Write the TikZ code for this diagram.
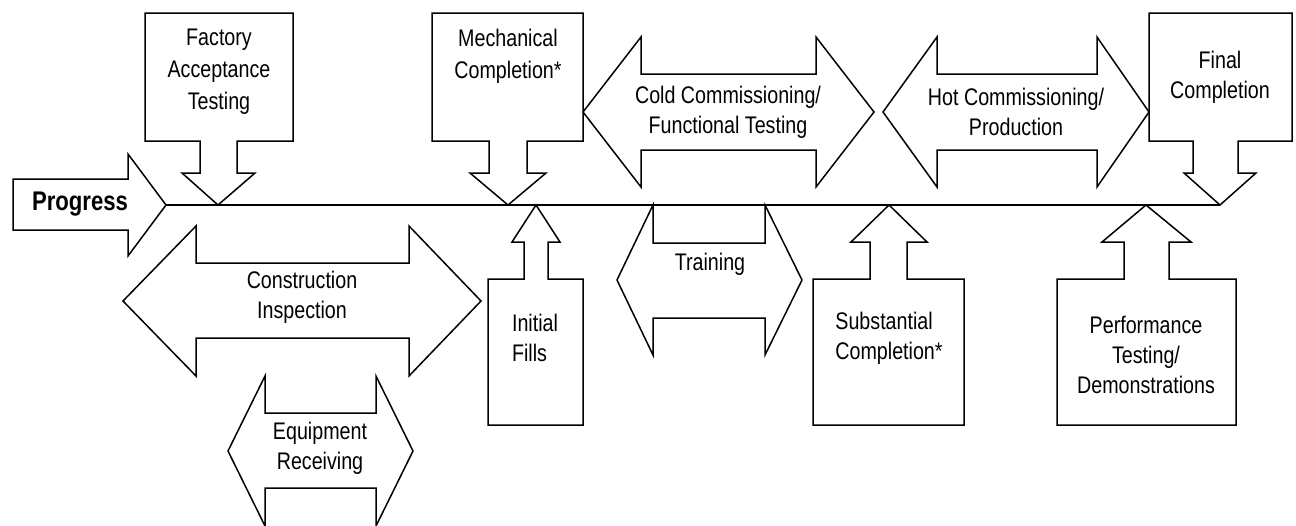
\documentclass[tikz,border=0pt]{standalone}
\usepackage{fontspec}
\setmainfont{Liberation Sans}[FakeStretch=0.82]
\begin{document}
\begin{tikzpicture}[x=1pt, y=-1pt,
	outline/.style={draw=black, fill=white, line width=1.5pt, line join=miter},
	txt/.style={inner sep=0pt, align=center, font=\fontsize{24}{30}\selectfont},
	toptxt/.style={txt, font=\fontsize{24}{32}\selectfont}]
	\useasboundingbox (0,0) rectangle (1296,525);

	% Progress arrow
	\draw[outline] (13,179) -- (128,179) -- (128,154) -- (166,205) -- (128,256) -- (128,230) -- (13,230) -- cycle;
	\coordinate (start) at (166,205);
	\node[txt, font=\bfseries\fontsize{27}{30}\selectfont] (progress) at (80,204) {Progress};

	% Boxes pointing down to the line
	\foreach \l/\r/\sl/\sr/\hl/\hr/\t/\n in {145/293/200/237/182/255/218/fat, 432/583/489/527/470/546/508/mech, 1149/1292/1193/1238/1184/1256/1220/final} {
		\draw[outline] (\l,13) -- (\r,13) -- (\r,141) -- (\sr,141) -- (\sr,173) -- (\hr,173) -- (\t,205)
			-- (\hl,173) -- (\sl,173) -- (\sl,141) -- (\l,141) -- cycle;
		\coordinate (\n-tip) at (\t,205);
	}

	% Boxes pointing up to the line
	\foreach \l/\r/\sl/\sr/\hl/\hr/\t/\n in {488/583/524/548/512/560/536/fills, 813/964/870/907/851/927/889/subst, 1057/1236/1124/1169/1102/1191/1146/perf} {
		\draw[outline] (\t,205) -- (\hr,242) -- (\sr,242) -- (\sr,279) -- (\r,279) -- (\r,425) -- (\l,425)
			-- (\l,279) -- (\sl,279) -- (\sl,242) -- (\hl,242) -- cycle;
		\coordinate (\n-tip) at (\t,205);
	}

	% Double arrows
	\foreach \a/\b/\c/\d/\ym/\ht/\st/\sb/\hb in {583/641/816/874/112/37/74/150/187, 883/937/1097/1149/112/37/74/150/187, 123/196/409/481/301/226/263/338/376, 617/653/765/802/280/205/243/318/355, 228/265/376/413/451/376/413/488/526} {
		\draw[outline] (\a,\ym) -- (\b,\ht) -- (\b,\st) -- (\c,\st) -- (\c,\ht) -- (\d,\ym)
			-- (\c,\hb) -- (\c,\sb) -- (\b,\sb) -- (\b,\hb) -- cycle;
	}

	% Progress line
	\draw[line width=1.5pt] (start) -- (final-tip);

	% Labels
	\node[toptxt] (fat) at (219,72) {Factory\\Acceptance\\Testing};
	\node[toptxt] (mech) at (508,56) {Mechanical\\Completion*};
	\node[txt] (final) at (1220,77) {Final\\Completion};
	\node[txt] (cold) at (728,112) {Cold Commissioning/\\Functional Testing};
	\node[txt] (hot) at (1016,112) {Hot Commissioning/\\Production};
	\node[txt] (constr) at (302,297) {Construction\\Inspection};
	\node[txt] (equip) at (320,448) {Equipment\\Receiving};
	\node[txt] (train) at (710,264) {Training};
	\node[txt, align=left] (fills) at (535,338) {Initial\\Fills};
	\node[txt, align=left] (subst) at (889,338) {Substantial\\Completion*};
	\node[txt] (perf) at (1146,355) {Performance\\Testing/\\Demonstrations};
\end{tikzpicture}
\end{document}
